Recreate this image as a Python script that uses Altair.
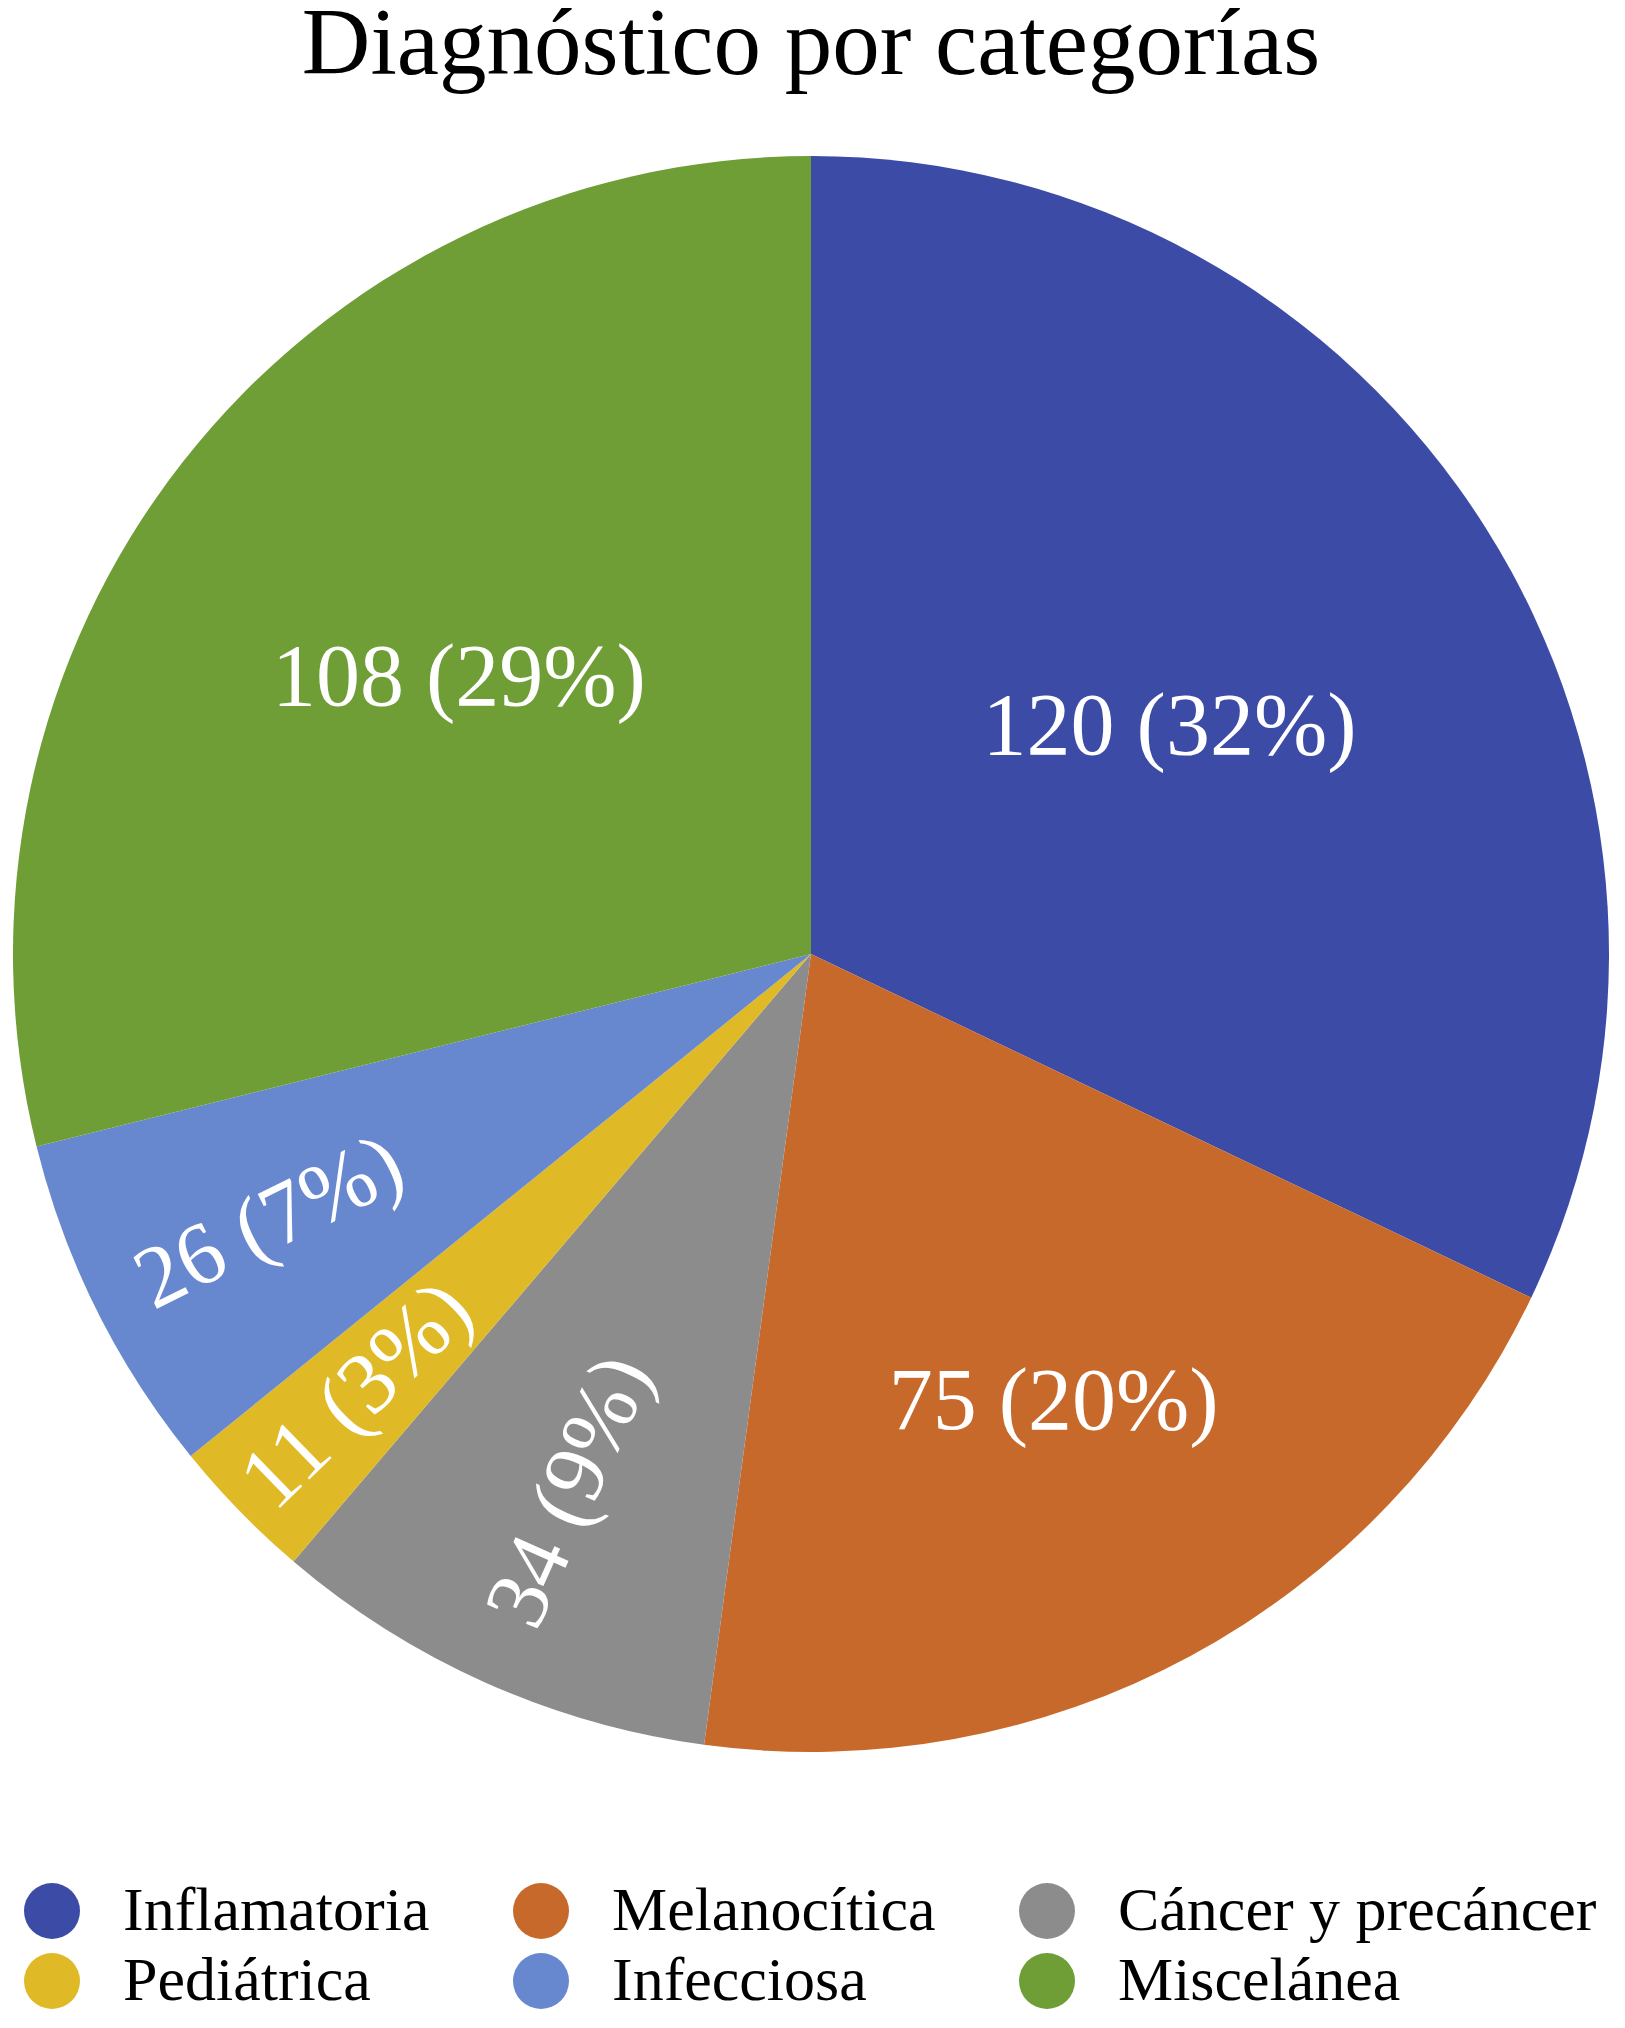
import altair as alt
import pandas as pd

categories = ["Inflamatoria", "Melanocítica", "Cáncer y precáncer", "Pediátrica", "Infecciosa", "Miscelánea"]
values = [120, 75, 34, 11, 26, 108]
colors = ["#3C4BA5", "#C8692C", "#8C8C8C", "#E0B927", "#6788CF", "#6E9E35"]

df = pd.DataFrame({"cat": categories, "value": values, "idx": list(range(len(categories)))})

FONT = "Liberation Serif"
R = 798

base = alt.Chart(df).transform_joinaggregate(
    total="sum(value)"
).transform_window(
    cum="sum(value)", sort=[alt.SortField("idx", order="ascending")], frame=[None, 0]
).transform_calculate(
    frac="datum.value / datum.total",
    mid="(datum.cum - datum.value / 2) / datum.total * 360",
).transform_calculate(
    label="datum.value + ' (' + round(datum.frac * 100) + '%)'",
    rfac="0.82 - 0.9 * datum.frac",
    ang="datum.frac < 0.1 ? datum.mid + 90 : 0",
    midrad="datum.mid * PI / 180",
)

arcs = base.mark_arc(outerRadius=R, stroke=None).encode(
    theta=alt.Theta("value:Q", stack=True),
    order=alt.Order("idx:Q", sort="ascending"),
    color=alt.Color(
        "cat:N",
        scale=alt.Scale(domain=categories, range=colors),
        sort=categories,
        legend=alt.Legend(
            title=None,
            orient="none",
            direction="horizontal",
            legendX=13,
            legendY=1729,
            columns=3,
            symbolType="circle",
            symbolSize=3136,
            symbolStrokeWidth=0,
            symbolOpacity=1,
            labelFont=FONT,
            labelFontSize=62,
            labelColor="#000000",
            labelLimit=1000,
            labelOffset=40,
            columnPadding=80,
            rowPadding=8,
        ),
    ),
)

labels = base.mark_text(
    font=FONT, fontSize=88, color="white", align="center", baseline="middle"
).encode(
    theta=alt.Theta("midrad:Q", scale=None),
    text="label:N",
    radius=alt.Radius("rfac:Q", scale=alt.Scale(domain=[0, 1], range=[0, R], zero=True)),
    angle=alt.Angle("ang:Q", scale=None),
)

chart = alt.layer(arcs, labels).resolve_scale(theta="independent").properties(
    width=1606,
    height=1606,
    title=alt.TitleParams(
        "Diagnóstico por categorías",
        font=FONT,
        fontSize=95,
        fontWeight="normal",
        color="#000000",
        anchor="middle",
        offset=57,
    ),
    autosize=alt.AutoSizeParams(type="none"),
    padding={"left": 0, "top": 143, "right": 3, "bottom": 260},
).configure_view(stroke=None)

chart.save("out.html", embed_options={"renderer": "svg", "actions": False})
